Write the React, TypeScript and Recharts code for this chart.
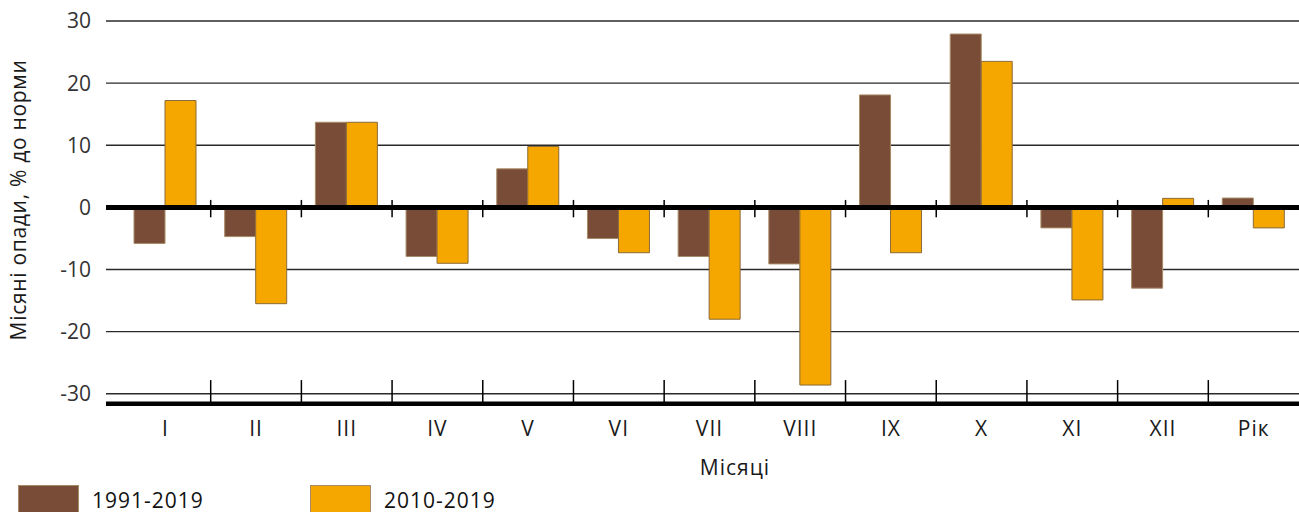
import React from 'react';
import { BarChart, Bar, XAxis, YAxis, CartesianGrid, ReferenceLine, Legend } from 'recharts';

const months = ['I', 'II', 'III', 'IV', 'V', 'VI', 'VII', 'VIII', 'IX', 'X', 'XI', 'XII', 'Рік'];
const series1991 = [-5.8, -4.7, 13.7, -7.9, 6.2, -5.0, -7.9, -9.1, 18.1, 27.9, -3.3, -13.0, 1.5];
const series2010 = [17.2, -15.5, 13.7, -9.0, 9.8, -7.3, -18.0, -28.6, -7.3, 23.5, -14.9, 1.45, -3.3];
const yTicks = [-30, -20, -10, 0, 10, 20, 30];
const seriesNames = ['1991-2019', '2010-2019'];
const seriesColors = ['#784C37', '#F5A700'];

const data = months.map((m, i) => ({ month: m, a: series1991[i], b: series2010[i] }));
const separators = months.slice(1);

const FONT = '"Open Sans", "Noto Sans", sans-serif';
const Y_MIN = -31.6;
const Y_MAX = 30;

const LegendContent = () => (
  <div style={{ position: 'relative', width: 600, height: 27, fontFamily: FONT }}>
    {seriesNames.map((name, i) => (
      <div key={name} style={{ position: 'absolute', left: i * 292, top: 0, height: 27 }}>
        <div
          style={{
            position: 'absolute',
            left: 0,
            top: 0,
            width: 59,
            height: 29,
            background: seriesColors[i],
            border: '1px solid #A88A66',
          }}
        />
        <div
          style={{
            position: 'absolute',
            left: 74,
            top: 4,
            fontSize: 21,
            letterSpacing: 1,
            color: '#111',
            whiteSpace: 'nowrap',
            lineHeight: '22px',
          }}
        >
          {name}
        </div>
      </div>
    ))}
  </div>
);

export default function App() {
  return (
    <div style={{ position: 'absolute', left: 0, top: 0, width: 1299, height: 512, overflow: 'hidden', background: '#fff' }}>
      <BarChart
        width={1299}
        height={512}
        data={data}
        margin={{ top: 21, right: 0, left: 0, bottom: 0 }}
        barGap={0}
        barSize={31}
      >
        <CartesianGrid vertical={false} stroke="#2a2a2a" strokeWidth={1.3} />
        <XAxis
          dataKey="month"
          padding={{ left: 14, right: 0 }}
          height={108.3}
          axisLine={{ stroke: '#000', strokeWidth: 4.5 }}
          tickLine={false}
          tickSize={0}
          tickMargin={17}
          interval={0}
          tick={{ fontFamily: FONT, fontSize: 21, fill: '#1a1a1a', letterSpacing: 1 }}
          label={{
            content: () => (
              <text x={735} y={475} textAnchor="middle" fontFamily={FONT} fontSize={21} letterSpacing={1} fill="#1a1a1a">
                Місяці
              </text>
            ),
          }}
        />
        <YAxis
          width={106}
          domain={[Y_MIN, Y_MAX]}
          ticks={yTicks}
          allowDataOverflow
          axisLine={false}
          tickLine={false}
          tickSize={0}
          tickMargin={15}
          tick={{ fontFamily: FONT, fontSize: 21, fill: '#333' }}
          label={{
            content: () => (
              <text
                x={26}
                y={200}
                transform="rotate(-90 26 200)"
                textAnchor="middle"
                fontFamily={FONT}
                fontSize={21}
                letterSpacing={0.7}
                fill="#1a1a1a"
              >
                Місяні опади, % до норми
              </text>
            ),
          }}
        />
        <Bar dataKey="a" name={seriesNames[0]} fill={seriesColors[0]} stroke="#A88A66" strokeWidth={1} isAnimationActive={false} />
        <Bar dataKey="b" name={seriesNames[1]} fill={seriesColors[1]} stroke="#8A6A3A" strokeWidth={1} isAnimationActive={false} />
        <ReferenceLine y={0} stroke="#000" strokeWidth={5} />
        {separators.map((s) => (
          <ReferenceLine
            key={`z${s}`}
            position="start"
            ifOverflow="visible"
            segment={[{ x: s, y: 1.2 }, { x: s, y: -1.6 }]}
            stroke="#000"
            strokeWidth={1.5}
          />
        ))}
        {separators.map((s) => (
          <ReferenceLine
            key={`b${s}`}
            position="start"
            ifOverflow="visible"
            segment={[{ x: s, y: -27.8 }, { x: s, y: Y_MIN }]}
            stroke="#000"
            strokeWidth={1.5}
          />
        ))}
        <Legend
          layout="horizontal"
          verticalAlign="middle"
          align="center"
          content={<LegendContent />}
          wrapperStyle={{ position: 'absolute', left: 18, top: 485, width: 600, height: 27 }}
        />
      </BarChart>
    </div>
  );
}
